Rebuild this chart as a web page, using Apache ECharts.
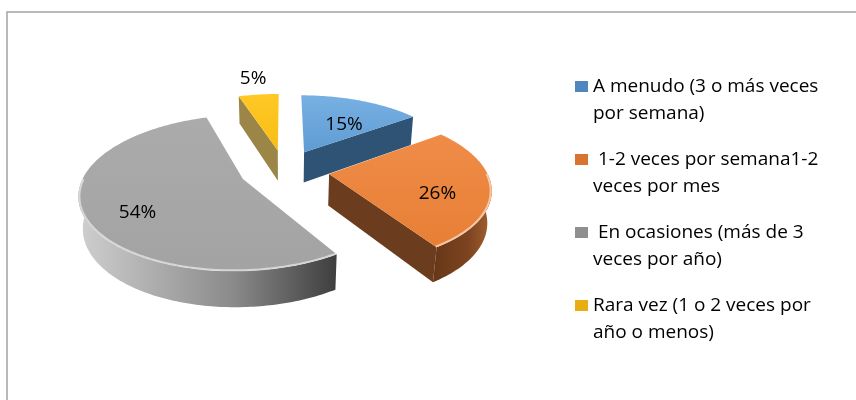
<!DOCTYPE html>
<html>
<head>
<meta charset="utf-8">
<title>Frecuencia</title>
<script src="https://cdn.jsdelivr.net/npm/echarts@6/dist/echarts.min.js"></script>
<style>
html, body { margin: 0; padding: 0; background: #fff; }
#myChart { width: 856px; height: 400px; }
</style>
</head>
<body>
<div id="myChart"></div>
<script>
// datos
var categories = [
  "A menudo (3 o más veces por semana)",
  " 1-2 veces por semana1-2 veces por mes",
  " En ocasiones (más de 3 veces por año)",
  "Rara vez (1 o 2 veces por año o menos)"
];
var values = [15, 26, 54, 5];

// estilos
var topColors = [["#78b0e2", "#5f9cd3"], ["#ef8c48", "#e87f35"], ["#ababab", "#a3a3a3"], ["#ffc825", "#f9bd14"]];
var sideColors = ["#2f5375", "#6b3c1d", "#555555", "#9b8547"];
var wallColors = [
  ["#3a6690", "#2f5375", "#2a4a6a"],
  ["#663717", "#7d4420", "#a3622f"],
  ["#cfcfcf", "#8a8a8a", "#3e3e3e"],
  ["#a08a4c", "#8e7b42", "#7d6c38"]
];
var legendColors = ["#4f86bd", "#d8742f", "#8f8f8f", "#e7ad12"];
var fontName = "'Open Sans', 'Noto Sans', sans-serif";

// proyección 3D sencilla
var cx = 284.5, cy = 170, R = 157, H = 36, E = 45, D = 800;
var tilt = 27.5 * Math.PI / 180;
var sinT = Math.sin(tilt), cosT = Math.cos(tilt);
var total = values.reduce(function (a, b) { return a + b; }, 0);

function project(X, Y, Z) {
  var w = Y * cosT + Z * sinT;
  var s = D / (D - w);
  return [cx + X * s, cy + (Y * sinT - Z * cosT) * s];
}

function startDeg(i) {
  var sum = 0;
  for (var k = 0; k < i; k++) sum += values[k];
  return sum / total * 360;
}

function arc(pt, from, to, r, z) {
  var pts = [];
  var n = Math.max(2, Math.ceil(Math.abs(to - from)));
  for (var k = 0; k <= n; k++) pts.push(pt(from + (to - from) * k / n, r, z));
  return pts;
}

function renderSlice(i) {
  return function (params, api) {
    var v = api.value(0);
    var a0 = startDeg(i), a1 = a0 + v / total * 360;
    var mid = (a0 + a1) / 2 * Math.PI / 180;
    var ox = E * Math.sin(mid), oy = -E * Math.cos(mid);
    function pt(deg, r, z) {
      var a = deg * Math.PI / 180;
      return project(ox + r * Math.sin(a), oy - r * Math.cos(a), z);
    }
    var children = [];
    function cutFace(a) {
      children.push({
        type: "polygon",
        shape: { points: [pt(a, 0, 0), pt(a, R, 0), pt(a, R, -H), pt(a, 0, -H)] },
        style: { fill: sideColors[i] }
      });
    }
    if (Math.sin(a0 * Math.PI / 180) < -1e-6) cutFace(a0);
    if (Math.sin(a1 * Math.PI / 180) > 1e-6) cutFace(a1);

    var w0 = Math.max(a0, 90), w1 = Math.min(a1, 270);
    if (w1 > w0) {
      var wall = arc(pt, w0, w1, R, 0).concat(arc(pt, w1, w0, R, -H));
      children.push({
        type: "polygon",
        shape: { points: wall },
        style: {
          fill: new echarts.graphic.LinearGradient(0, 0, 1, 0, [
            { offset: 0, color: wallColors[i][0] },
            { offset: 0.6, color: wallColors[i][1] },
            { offset: 1, color: wallColors[i][2] }
          ])
        }
      });
    }

    children.push({
      type: "polygon",
      shape: { points: [pt(0, 0, 0)].concat(arc(pt, a0, a1, R, 0)) },
      style: {
        fill: new echarts.graphic.LinearGradient(0, 0, 0, 1, [
          { offset: 0, color: topColors[i][0] },
          { offset: 1, color: topColors[i][1] }
        ])
      }
    });
    if (w1 > w0) {
      children.push({
        type: "polyline",
        shape: { points: arc(pt, w0, w1, R - 1, 0) },
        style: { stroke: "rgba(255,255,255,0.55)", lineWidth: 2, fill: null }
      });
    }

    var pct = Math.round(v / total * 100) + "%";
    var degMid = (a0 + a1) / 2;
    var lp = v / total < 0.08 ? pt(degMid, R * 1.35, 0) : pt(degMid, R * 0.68, -H * 0.3);
    children.push({
      type: "text",
      x: lp[0],
      y: lp[1],
      style: {
        text: pct,
        fill: "#000",
        font: "19px " + fontName,
        align: "center",
        verticalAlign: "middle"
      }
    });
    return { type: "group", children: children };
  };
}

function wrap(name) {
  var words = name.split(" ");
  var line = "", lines = [];
  words.forEach(function (w, k) {
    var next = k === 0 ? w : line + " " + w;
    if (next.length > 25 && line.trim() !== "") {
      lines.push(line);
      line = w;
    } else {
      line = next;
    }
  });
  lines.push(line);
  return lines;
}

var myChart = echarts.init(document.getElementById("myChart"));

var rich = {
  g: { width: 5, lineHeight: 27 },
  g2: { width: 18, lineHeight: 27 },
  t: { fontSize: 19, lineHeight: 27, color: "#000", fontFamily: fontName }
};
legendColors.forEach(function (c, k) {
  rich["m" + k] = { width: 13, height: 11, lineHeight: 27, backgroundColor: c };
});

// orden de dibujo: de atrás hacia delante
var drawOrder = [0, 3, 1, 2];
var series = drawOrder.map(function (i) {
  return {
    type: "custom",
    name: categories[i],
    coordinateSystem: "none",
    renderItem: renderSlice(i),
    data: [[values[i]]],
    silent: true
  };
});

var option = {
  animation: false,
  backgroundColor: "#fff",
  graphic: [{
    type: "rect",
    shape: { x: 7, y: 12, width: 900, height: 500 },
    style: { fill: null, stroke: "#a3a3a3", lineWidth: 1.5 },
    silent: true
  }],
  legend: {
    orient: "vertical",
    left: 570,
    top: 73,
    padding: 0,
    itemGap: 19,
    itemWidth: 0,
    itemHeight: 0,
    selectedMode: false,
    data: categories,
    formatter: function (name) {
      var k = categories.indexOf(name);
      var lines = wrap(name);
      var s = "{m" + k + "|}{g|}{t|" + lines[0] + "}";
      for (var j = 1; j < lines.length; j++) s += "\n{g2|}{t|" + lines[j] + "}";
      return s;
    },
    textStyle: { lineHeight: 27, rich: rich }
  },
  series: series
};

myChart.setOption(option);
</script>
</body>
</html>
